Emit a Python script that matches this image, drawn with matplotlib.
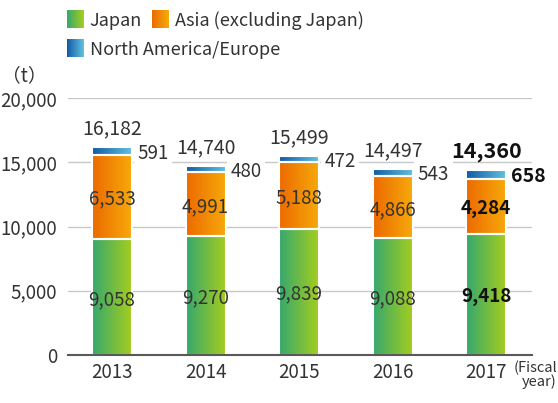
import numpy as np
import matplotlib
matplotlib.use("Agg")
import matplotlib.pyplot as plt
from matplotlib.colors import LinearSegmentedColormap

plt.rcParams["font.family"] = ["Noto Sans CJK JP", "DejaVu Sans"]

# 数据
years = ["2013", "2014", "2015", "2016", "2017"]
japan = [9058, 9270, 9839, 9088, 9418]
asia = [6533, 4991, 5188, 4866, 4284]
na_eu = [591, 480, 472, 543, 658]
totals = [16182, 14740, 15499, 14497, 14360]

series_names = ["Japan", "Asia (excluding Japan)", "North America/Europe"]

# 渐变色（左 -> 右）
grad_colors = {
    "Japan": ("#35a86e", "#a8ce1c"),
    "Asia (excluding Japan)": ("#ec6a00", "#f7ab0a"),
    "North America/Europe": ("#1259a6", "#62c4df"),
}

text_color = "#333333"


def make_cmap(name):
    c1, c2 = grad_colors[name]
    return LinearSegmentedColormap.from_list(name, [c1, c2])


gradient = np.linspace(0, 1, 256).reshape(1, -1)


def fill_gradient(ax, bars, name):
    cmap = make_cmap(name)
    for b in bars:
        x0, y0 = b.get_x(), b.get_y()
        w, h = b.get_width(), b.get_height()
        ax.imshow(gradient, cmap=cmap, aspect="auto",
                  extent=(x0, x0 + w, y0, y0 + h),
                  interpolation="bicubic", zorder=2)


fig = plt.figure(figsize=(5.58, 4.03), dpi=100)
ax = fig.add_axes([0.1219, 0.1191, 0.8315, 0.6377])

x = np.arange(len(years))
width = 0.428

bottom2 = np.array(japan)
bottom3 = bottom2 + np.array(asia)

b1 = ax.bar(x, japan, width, facecolor="none", edgecolor="white",
            linewidth=1.5, zorder=3)
b2 = ax.bar(x, asia, width, bottom=bottom2, facecolor="none",
            edgecolor="white", linewidth=1.5, zorder=3)
b3 = ax.bar(x, na_eu, width, bottom=bottom3, facecolor="none",
            edgecolor="white", linewidth=1.5, zorder=3)

fill_gradient(ax, b1, "Japan")
fill_gradient(ax, b2, "Asia (excluding Japan)")
fill_gradient(ax, b3, "North America/Europe")

# 数值标签
last = len(years) - 1
fs = 13.5
for i in range(len(years)):
    bold = i == last
    weight = "bold" if bold else "normal"
    color = "#111111" if bold else text_color
    ax.text(x[i], japan[i] / 2, f"{japan[i]:,}", ha="center",
            va="center_baseline", fontsize=fs, color=color,
            fontweight=weight, zorder=4)
    ax.text(x[i], bottom2[i] + asia[i] / 2, f"{asia[i]:,}", ha="center",
            va="center_baseline", fontsize=fs, color=color,
            fontweight=weight, zorder=4)
    ax.text(x[i] + width / 2 + 0.055, bottom3[i] + na_eu[i] / 2,
            f"{na_eu[i]:,}", ha="left", va="center_baseline",
            fontsize=fs + 0.5 if bold else fs, color=color,
            fontweight=weight, zorder=4,
            bbox=dict(facecolor="white", edgecolor="none", pad=2.5))
    ax.text(x[i], bottom3[i] + na_eu[i] + 980, f"{totals[i]:,}",
            ha="center", va="baseline", fontsize=15.5 if bold else fs + 0.5,
            color=color, fontweight=weight, zorder=4)

ax.set_xlim(-0.47, 4.49)
ax.set_ylim(0, 20000)
ax.set_yticks([0, 5000, 10000, 15000, 20000])
ax.set_yticklabels(["0", "5,000", "10,000", "15,000", "20,000"])
ax.set_xticks(x)
ax.set_xticklabels(years)
ax.tick_params(axis="both", length=0, labelsize=fs, colors=text_color)
ax.tick_params(axis="y", pad=8)
ax.tick_params(axis="x", pad=5)

ax.grid(axis="y", color="#c8c8c8", linewidth=1)
ax.set_axisbelow(True)
for s in ["top", "right", "left"]:
    ax.spines[s].set_visible(False)
ax.spines["bottom"].set_color("#595959")
ax.spines["bottom"].set_linewidth(1.5)
ax.spines["bottom"].set_zorder(5)

# 单位
fig.text(0.004, 0.819, "（t）", fontsize=fs, color=text_color,
         ha="left", va="center_baseline")
fig.text(0.998, 0.0695, "(Fiscal\nyear)", fontsize=10.5, color=text_color,
         ha="right", va="center", linespacing=0.95)

# 图例
legend_pos = [(0.120, 0.953), (0.272, 0.953), (0.120, 0.880)]
for name, (lx, ly) in zip(series_names, legend_pos):
    sq = fig.add_axes([lx, ly - 0.0223, 0.0287, 0.0447])
    sq.imshow(gradient, cmap=make_cmap(name), aspect="auto")
    sq.axis("off")
    fig.text(lx + 0.041, ly, name, fontsize=13, color=text_color,
             ha="left", va="center_baseline")

fig.savefig("out.png", dpi=100)
